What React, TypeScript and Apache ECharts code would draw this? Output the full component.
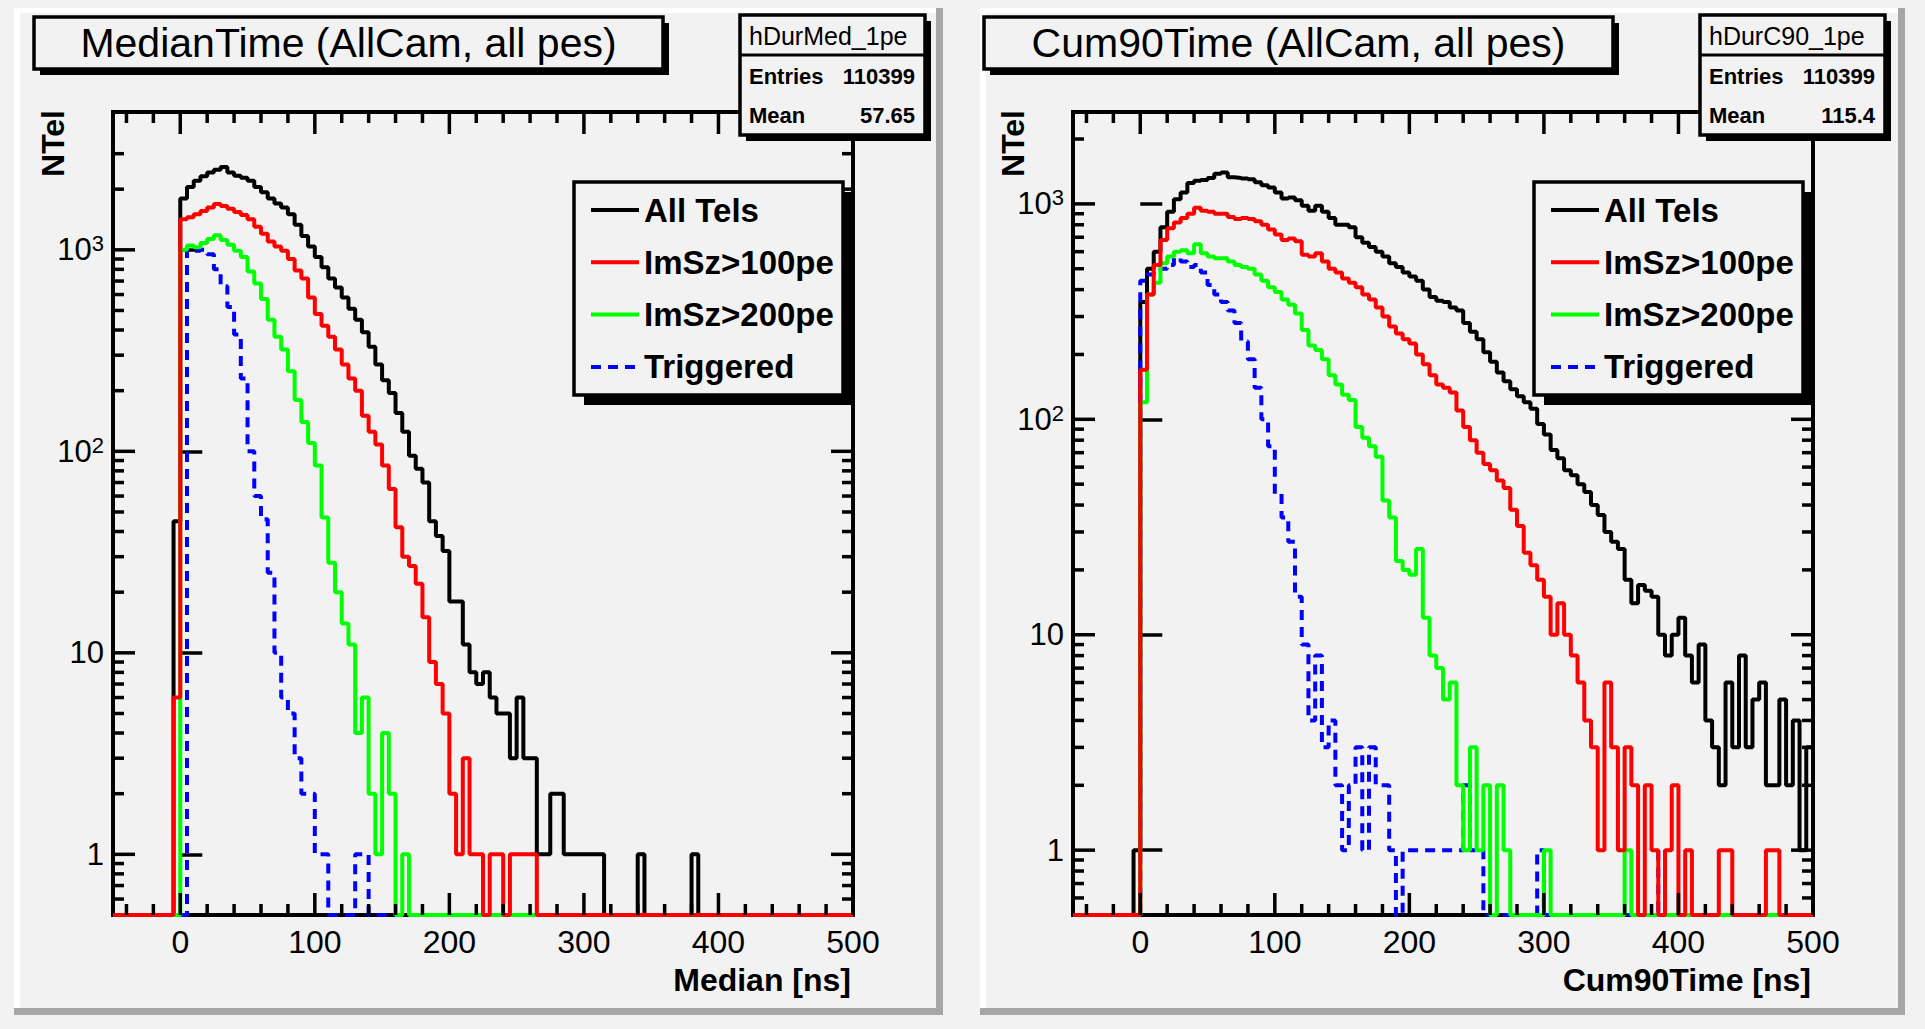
import React, { useEffect, useRef } from "react";
import * as echarts from "echarts";

const FONT = "'Liberation Sans', Arial, Helvetica, sans-serif";

// Histogram binning: 5 ns bins, first element of every array = bin [-5, 0)
const BIN_WIDTH = 5;
const FIRST_BIN_EDGE = -5;
const X_MIN = -50;
const X_MAX = 500;
const Y_MIN = 0.5;

const SERIES_NAMES = ["All Tels", "ImSz>100pe", "ImSz>200pe", "Triggered"];
const SERIES_COLORS = ["#000000", "#ff0000", "#00ff00", "#0000ff"];

// ---- Left panel: MedianTime ----
const MEDIAN_ALL_TELS = [45,
  1800, 2050, 2200, 2320, 2420, 2500, 2580, 2420, 2330, 2280,
  2200, 2050, 1930, 1800, 1700, 1620, 1500, 1330, 1170, 1040,
  920, 820, 720, 650, 580, 510, 450, 390, 330, 270,
  225, 195, 155, 125, 95, 82, 70, 45, 38, 32,
  18, 18, 11, 8, 7, 8, 6, 5, 5, 3,
  6, 3, 3, 1, 1, 2, 2, 1, 1, 1,
  1, 1, 1, 0, 0, 0, 0, 0, 1, 0,
  0, 0, 0, 0, 0, 0, 1];
const MEDIAN_IMSZ100 = [6,
  1420, 1450, 1500, 1560, 1620, 1690, 1650, 1600, 1540, 1490,
  1420, 1300, 1200, 1100, 1040, 990, 900, 790, 720, 580,
  480, 420, 370, 320, 270, 230, 200, 150, 125, 108,
  85, 65, 42, 30, 27, 22, 15, 9, 7, 5,
  2, 1, 3, 1, 1, 0, 1, 1, 0, 1,
  1, 1, 1];
const MEDIAN_IMSZ200 = [0,
  1000, 1050, 1030, 1080, 1130, 1180, 1120, 1060, 990, 920,
  780, 680, 570, 450, 370, 320, 250, 180, 140, 110,
  85, 47, 28, 20, 14, 11, 4, 6, 2, 1,
  4, 2, 0, 1];
const MEDIAN_TRIGGERED = [0,
  0, 1000, 990, 1000, 950, 800, 660, 520, 380, 230,
  100, 60, 46, 25, 10, 6, 5, 3, 2, 2,
  1, 1, 0, 0, 0, 0, 1, 1];

// ---- Right panel: Cum90Time ----
const CUM90_ALL_TELS = [1,
  350, 500, 600, 780, 920, 1050, 1130, 1250, 1280, 1290,
  1320, 1380, 1400, 1330, 1320, 1310, 1300, 1260, 1220, 1190,
  1130, 1060, 1070, 1040, 980, 930, 980, 920, 860, 800,
  800, 780, 700, 660, 630, 600, 570, 530, 510, 480,
  460, 440, 400, 370, 355, 350, 330, 320, 280, 255,
  235, 205, 185, 165, 150, 138, 128, 120, 112, 95,
  85, 72, 66, 58, 55, 50, 46, 40, 36, 30,
  27, 25, 18, 14, 17, 16, 15, 10, 8, 10,
  12, 8, 6, 9, 4, 3, 2, 6, 3, 8,
  3, 5, 6, 2, 2, 5, 2, 4, 1, 3];
const CUM90_IMSZ100 = [0,
  170, 380, 520, 680, 770, 820, 860, 900, 960, 930,
  920, 900, 900, 870, 850, 860, 850, 830, 800, 760,
  720, 680, 690, 670, 580, 570, 590, 540, 500, 480,
  450, 430, 410, 380, 360, 330, 300, 270, 250, 235,
  225, 200, 180, 160, 145, 140, 133, 110, 92, 80,
  70, 62, 58, 52, 48, 38, 32, 24, 21, 18,
  15, 10, 14, 10, 8, 6, 4, 3, 1, 6,
  3, 1, 3, 2, 0, 2, 1, 0, 1, 2,
  0, 1, 0, 0, 0, 0, 1, 1, 0, 0,
  0, 0, 0, 1, 1];
const CUM90_IMSZ200 = [0,
  120, 380, 430, 530, 570, 600, 610, 590, 650, 590,
  570, 560, 560, 540, 520, 510, 500, 470, 440, 410,
  390, 360, 340, 310, 260, 220, 210, 190, 160, 145,
  130, 123, 92, 82, 75, 67, 42, 35, 22, 20,
  19, 25, 12, 8, 7, 5, 6, 2, 1, 3,
  1, 2, 0, 2, 1, 0, 0, 0, 0, 0,
  1, 0, 0, 0, 0, 0, 0, 0, 0, 0,
  0, 0, 1];
const CUM90_TRIGGERED = [0,
  440, 470, 490, 500, 520, 560, 540, 510, 520, 480,
  420, 380, 350, 320, 280, 230, 190, 140, 100, 75,
  45, 35, 27, 15, 9, 4, 8, 3, 4, 2,
  1, 2, 3, 1, 3, 2, 2, 1, 0, 1,
  1, 1, 1, 1, 1, 1, 1, 1, 2, 1,
  1, 0, 0, 0, 0, 0, 0, 0, 0, 1,
  0, 0, 0, 0, 0, 0, 0, 0, 0, 0,
  0, 0, 0, 0, 0, 0, 0, 1];

// ---- Axis ticks ----
const X_MAJOR_TICKS = [0, 100, 200, 300, 400, 500];
const X_MINOR_TICKS = [-40, -20, 20, 40, 60, 80, 120, 140, 160, 180, 220, 240, 260, 280,
  320, 340, 360, 380, 420, 440, 460, 480];
const Y_MAJOR_TICKS = [1, 10, 100, 1000];
const LEFT_Y_MINOR_TICKS = [0.6, 0.7, 0.8, 0.9, 2, 3, 4, 5, 6, 7, 8, 9, 20, 30, 40, 50, 60, 70, 80, 90,
  200, 300, 400, 500, 600, 700, 800, 900, 2000, 3000];
const RIGHT_Y_MINOR_TICKS = [0.6, 0.7, 0.8, 0.9, 2, 3, 4, 5, 6, 7, 8, 9, 20, 30, 40, 50, 60, 70, 80, 90,
  200, 300, 400, 500, 600, 700, 800, 900, 2000];

const PANELS = [
  {
    title: "MedianTime (AllCam, all pes)",
    xTitle: "Median [ns]",
    statName: "hDurMed_1pe",
    entries: "110399",
    mean: "57.65",
    yMax: 4830,
    yMinor: LEFT_Y_MINOR_TICKS,
    counts: [MEDIAN_ALL_TELS, MEDIAN_IMSZ100, MEDIAN_IMSZ200, MEDIAN_TRIGGERED],
    gridLeft: 113,
    padLeft: 14,
    padRight: 943,
    titleBoxX: 34,
  },
  {
    title: "Cum90Time (AllCam, all pes)",
    xTitle: "Cum90Time [ns]",
    statName: "hDurC90_1pe",
    entries: "110399",
    mean: "115.4",
    yMax: 2670,
    yMinor: RIGHT_Y_MINOR_TICKS,
    counts: [CUM90_ALL_TELS, CUM90_IMSZ100, CUM90_IMSZ200, CUM90_TRIGGERED],
    gridLeft: 1073,
    padLeft: 980,
    padRight: 1905,
    titleBoxX: 984,
  },
];

const GRID_TOP = 112;
const GRID_W = 740;
const GRID_H = 803;
const TITLE_BOX_W = 629;
const MAJOR_LEN = 22;
const MINOR_LEN = 11;
const TICK_W = 3.5;

function stepData(counts: number[]) {
  const pts: number[][] = [[X_MIN, Y_MIN]];
  counts.forEach((c, i) => {
    pts.push([FIRST_BIN_EDGE + i * BIN_WIDTH, c > 0 ? c : Y_MIN]);
  });
  pts.push([FIRST_BIN_EDGE + counts.length * BIN_WIDTH, Y_MIN]);
  pts.push([X_MAX, Y_MIN]);
  return pts;
}

function yLabel(v: number) {
  const lg = Math.log10(v);
  const r = Math.round(lg);
  if (Math.abs(lg - r) > 1e-6 || r < 0) return "";
  if (r === 0) return "{b|1}";
  if (r === 1) return "{b|10}";
  return `{b|10}{s|${r}}`;
}

function buildOption() {
  const grid: any[] = [];
  const xAxis: any[] = [];
  const yAxis: any[] = [];
  const series: any[] = [];
  const legend: any[] = [];
  const title: any[] = [];
  const graphic: any[] = [];

  PANELS.forEach((p, k) => {
    const gl = p.gridLeft;
    const gr = gl + GRID_W;
    // pad bevels
    const pw = p.padRight - p.padLeft;
    graphic.push({ type: "rect", z: 0, shape: { x: p.padLeft, y: 8, width: 6, height: 1007 }, style: { fill: "#ffffff" } });
    graphic.push({ type: "rect", z: 0, shape: { x: p.padLeft, y: 8, width: pw, height: 5 }, style: { fill: "#ffffff" } });
    graphic.push({ type: "rect", z: 0, shape: { x: p.padRight - 7, y: 8, width: 7, height: 1007 }, style: { fill: "#a6a6a6" } });
    graphic.push({ type: "rect", z: 0, shape: { x: p.padLeft, y: 1008, width: pw, height: 7 }, style: { fill: "#a6a6a6" } });

    // plot frame (drawn below the histograms, like ROOT)
    graphic.push({
      type: "rect", z: 1, silent: true,
      shape: { x: gl, y: GRID_TOP, width: GRID_W, height: GRID_H },
      style: { fill: "none", stroke: "#000", lineWidth: 4 },
    });

    grid.push({
      left: gl, top: GRID_TOP, width: GRID_W, height: GRID_H,
      show: false, containLabel: false, outerBoundsMode: "none",
    });
    xAxis.push({
      gridIndex: k, type: "value", min: X_MIN, max: X_MAX, interval: 50,
      axisLine: { show: false }, axisTick: { show: false }, splitLine: { show: false },
      axisLabel: {
        margin: 11, fontSize: 32, color: "#000", fontFamily: FONT,
        formatter: (v: number) => (v % 100 === 0 ? String(v) : ""),
      },
    });
    yAxis.push({
      gridIndex: k, type: "log", logBase: 10, min: Y_MIN, max: p.yMax,
      axisLine: { show: false },
      axisTick: { show: true, inside: true, length: MAJOR_LEN, lineStyle: { color: "#000", width: 3.5 } },
      splitLine: { show: false },
      minorTick: { show: false }, minorSplitLine: { show: false },
      axisLabel: {
        margin: 9, formatter: yLabel,
        rich: {
          b: { fontSize: 31, fontFamily: FONT, color: "#000", lineHeight: 34 },
          s: { fontSize: 22, fontFamily: FONT, color: "#000", lineHeight: 22, verticalAlign: "top" },
        },
      },
    });
    [0, 3, 2, 1].forEach((si) => {
      series.push({
        type: "line", name: SERIES_NAMES[si], xAxisIndex: k, yAxisIndex: k,
        data: stepData(p.counts[si]), step: "end", symbol: "none", showSymbol: false,
        clip: false, z: 2, color: SERIES_COLORS[si],
        itemStyle: { color: SERIES_COLORS[si] },
        lineStyle: { color: SERIES_COLORS[si], width: 4, type: si === 3 ? [10, 7] : "solid" },
      });
    });

    // legend box
    const lgX = gr - 279;
    graphic.push({ type: "rect", z: 20, shape: { x: lgX + 10, y: 192, width: 269, height: 213 }, style: { fill: "#000" } });
    graphic.push({ type: "rect", z: 20, shape: { x: lgX, y: 182, width: 269, height: 213 }, style: { fill: "#f2f2f2", stroke: "#000", lineWidth: 3.5 } });
    legend.push({
      data: SERIES_NAMES, orient: "vertical", left: lgX + 15, top: 193.5, padding: 0,
      itemWidth: 48, itemHeight: 14, itemGap: 19.3, selectedMode: false, z: 30,
      lineStyle: { width: 4 },
      itemStyle: { opacity: 0 },
      textStyle: { fontSize: 33, fontWeight: "bold", fontFamily: FONT, color: "#000", lineHeight: 33 },
    });

    // title box
    const tbX = p.titleBoxX;
    graphic.push({ type: "rect", z: 20, shape: { x: tbX + 6, y: 23, width: TITLE_BOX_W, height: 52 }, style: { fill: "#000" } });
    graphic.push({ type: "rect", z: 20, shape: { x: tbX, y: 17, width: TITLE_BOX_W, height: 52 }, style: { fill: "#f2f2f2", stroke: "#000", lineWidth: 3.5 } });
    title.push({
      text: p.title, left: tbX + TITLE_BOX_W / 2, top: 43, textAlign: "center", textVerticalAlign: "middle", padding: 0, z: 30,
      textStyle: { fontSize: 41, fontWeight: "normal", fontFamily: FONT, color: "#000" },
    });

    // stats box
    const sbX = gr + 72 - 185;
    graphic.push({ type: "rect", z: 20, shape: { x: sbX + 6, y: 21, width: 185, height: 120 }, style: { fill: "#000" } });
    graphic.push({ type: "rect", z: 20, shape: { x: sbX, y: 15, width: 185, height: 120 }, style: { fill: "#f2f2f2", stroke: "#000", lineWidth: 3.5 } });
    graphic.push({ type: "line", z: 20, shape: { x1: sbX, y1: 55, x2: sbX + 185, y2: 55 }, style: { stroke: "#000", lineWidth: 3 } });
    const tstyle = (text: string, weight: string, size: number, align: string) => ({
      text, fontSize: size, fontWeight: weight, fontFamily: FONT, fill: "#000", align, verticalAlign: "middle",
    });
    graphic.push({ type: "text", z: 21, x: sbX + 9, y: 36, style: tstyle(p.statName, "normal", 25, "left") });
    graphic.push({ type: "text", z: 21, x: sbX + 9, y: 76, style: tstyle("Entries", "bold", 22, "left") });
    graphic.push({ type: "text", z: 21, x: sbX + 175, y: 76, style: tstyle(p.entries, "bold", 22, "right") });
    graphic.push({ type: "text", z: 21, x: sbX + 9, y: 115, style: tstyle("Mean", "bold", 22, "left") });
    graphic.push({ type: "text", z: 21, x: sbX + 175, y: 115, style: tstyle(p.mean, "bold", 22, "right") });

    // axis titles
    graphic.push({ type: "text", z: 21, x: gr - 2, y: 980, style: tstyle(p.xTitle, "bold", 32, "right") });
    graphic.push({ type: "text", z: 21, x: gl - 60, y: 110, rotation: Math.PI / 2, style: tstyle("NTel", "bold", 32, "right") });
  });

  return {
    animation: false,
    backgroundColor: "#f2f2f2",
    textStyle: { fontFamily: FONT },
    title, grid, xAxis, yAxis, series, legend, graphic,
  };
}

// ROOT-style ticks on all four sides, as thin filled rects placed through the axes' own scales
function buildTickGraphics(chart: any) {
  const out: any[] = [];
  PANELS.forEach((p, k) => {
    const toX = (v: number) => chart.convertToPixel({ xAxisIndex: k }, v) as number;
    const toY = (v: number) => chart.convertToPixel({ yAxisIndex: k }, v) as number;
    const left = toX(X_MIN), right = toX(X_MAX), bottom = toY(Y_MIN), top = toY(p.yMax);
    const rect = (x: number, y: number, w: number, h: number) =>
      out.push({ type: "rect", z: 10, silent: true, shape: { x, y, width: w, height: h }, style: { fill: "#000" } });
    const xTick = (v: number, L: number) => {
      const x = toX(v) - TICK_W / 2;
      rect(x, bottom - L, TICK_W, L);
      rect(x, top, TICK_W, L);
    };
    const yTick = (v: number, L: number) => {
      const y = toY(v) - TICK_W / 2;
      rect(left, y, L, TICK_W);
      rect(right - L, y, L, TICK_W);
    };
    X_MAJOR_TICKS.forEach((v) => xTick(v, MAJOR_LEN));
    X_MINOR_TICKS.forEach((v) => xTick(v, MINOR_LEN));
    Y_MAJOR_TICKS.forEach((v) => yTick(v, MAJOR_LEN));
    p.yMinor.forEach((v) => yTick(v, MINOR_LEN));
  });
  return out;
}

export default function App() {
  const ref = useRef<HTMLDivElement>(null);
  useEffect(() => {
    if (!ref.current) return;
    const chart = echarts.init(ref.current, undefined, { renderer: "svg" });
    const option: any = buildOption();
    chart.setOption(option);
    const ticks = buildTickGraphics(chart);
    chart.setOption({ graphic: [...option.graphic, ...ticks] });
    return () => chart.dispose();
  }, []);
  return <div ref={ref} style={{ position: "fixed", left: 0, top: 0, width: 1925, height: 1029 }} />;
}
